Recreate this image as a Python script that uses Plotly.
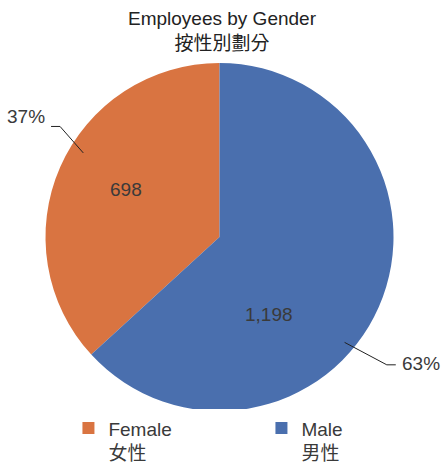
import math
import plotly.graph_objects as go

# ---- data ----
categories = ["Female", "Male"]
categories_zh = ["女性", "男性"]
values = [698, 1198]
title_en = "Employees by Gender"
title_zh = "按性別劃分"

# ---- style ----
colors = ["#D97441", "#4A6FAE"]
W, H = 443, 464
cx, cy, R = 219.5, 237.0, 174.0
FONT = "Liberation Sans, Arial, Noto Sans CJK TC, sans-serif"
TXT = "#3a3a3a"
value_frac = [0.477, 0.353]   # where inside labels sit along each slice
value_rfac = [0.60, 0.53]
leader_f0 = [0.44, 0.428]     # leader start, fraction along slice
leader_r0 = [0.92, 0.94]
leader_f1 = [0.417, 0.44]     # leader elbow, fraction along slice
leader_r1 = [1.115, 1.21]
label_dy = [-10, -1]

total = sum(values)


def px_to_paper(x, y):
    return x / W, 1 - y / H


def point(angle_ccw_deg, rfac):
    a = math.radians(angle_ccw_deg)
    return cx - math.sin(a) * R * rfac, cy - math.cos(a) * R * rfac


fig = go.Figure(
    go.Pie(
        labels=[f"{e}<br>{z}" for e, z in zip(categories, categories_zh)],
        values=values,
        sort=False,
        direction="counterclockwise",
        rotation=-360.0 * values[0] / total,
        textinfo="none",
        marker=dict(colors=colors, line=dict(width=0)),
        domain=dict(x=[(cx - R) / W, (cx + R) / W],
                    y=[1 - (cy + R) / H, 1 - (cy - R) / H]),
        hoverinfo="label+value+percent",
    )
)

annotations = []
shapes = []
start = 0.0
for i, v in enumerate(values):
    span = 360.0 * v / total
    # inside value label
    vx, vy = point(start + span * value_frac[i], value_rfac[i])
    px, py = px_to_paper(vx, vy)
    annotations.append(dict(x=px, y=py, xref="paper", yref="paper",
                            xanchor="center", yanchor="middle",
                            text=f"{v:,}", showarrow=False,
                            font=dict(size=19, color=TXT, family=FONT)))
    # leader line + percent label
    sx, sy = point(start + span * leader_f0[i], leader_r0[i])
    a1 = start + span * leader_f1[i]
    ex, ey = point(a1, leader_r1[i])
    side = -1 if math.sin(math.radians(a1)) > 0 else 1
    hx = ex + side * 9
    p0, p1, p2 = px_to_paper(sx, sy), px_to_paper(ex, ey), px_to_paper(hx, ey)
    shapes.append(dict(type="path", xref="paper", yref="paper",
                       path=f"M {p0[0]} {p0[1]} L {p1[0]} {p1[1]} L {p2[0]} {p2[1]}",
                       line=dict(color="#222222", width=1)))
    tx, ty = px_to_paper(hx + side * 4, ey + label_dy[i])
    annotations.append(dict(x=tx, y=ty, xref="paper", yref="paper",
                            text=f"{round(100 * v / total)}%", showarrow=False,
                            xanchor="right" if side < 0 else "left",
                            yanchor="middle",
                            font=dict(size=19, color=TXT, family=FONT)))
    start += span

# title as annotation
tx, ty = px_to_paper(222.5, 6)
annotations.append(dict(x=tx, y=ty, xref="paper", yref="paper",
                        xanchor="center", yanchor="top", showarrow=False,
                        text=f"{title_en}<br>{title_zh}",
                        font=dict(size=19, color="#222222", family=FONT)))

fig.update_layout(
    width=W, height=H,
    margin=dict(l=0, r=0, t=0, b=0, pad=0, autoexpand=False),
    paper_bgcolor="white",
    plot_bgcolor="white",
    annotations=annotations,
    shapes=shapes,
    showlegend=True,
    legend=dict(orientation="h", x=0.1545, xanchor="left", y=0.118, yanchor="top",
                valign="top", entrywidth=148, entrywidthmode="pixels",
                font=dict(size=19, color=TXT, family=FONT),
                itemclick=False, itemdoubleclick=False),
)

fig.write_html("out.html",
               config={"displayModeBar": False},
               post_script="document.body.style.margin='0';document.body.style.padding='0';")
